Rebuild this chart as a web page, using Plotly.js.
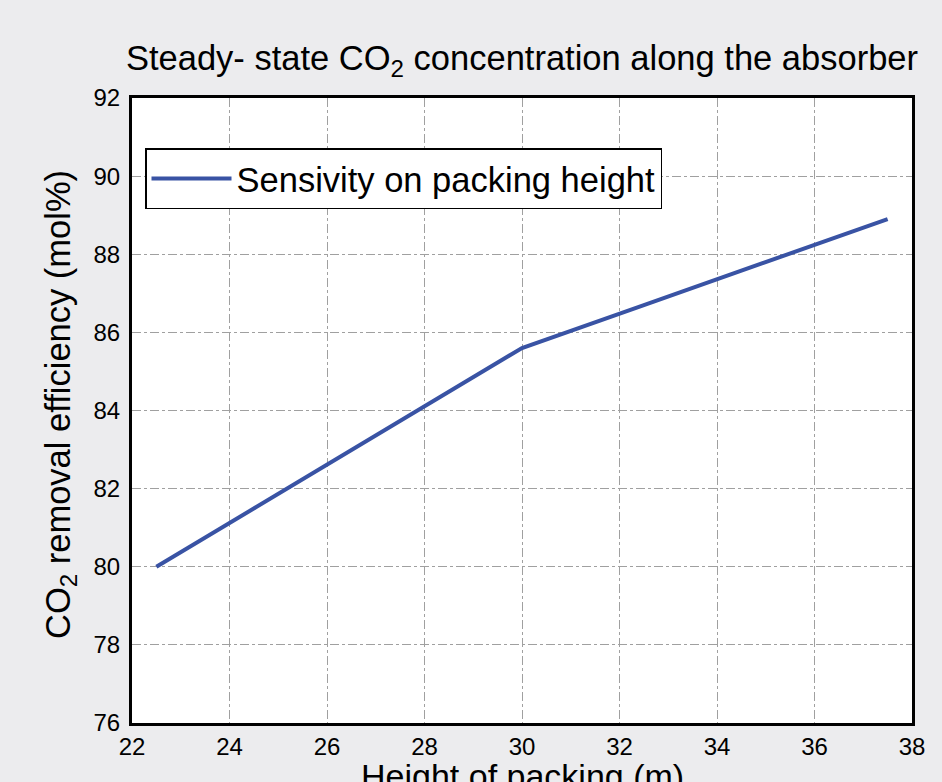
<!DOCTYPE html>
<html>
<head>
<meta charset="utf-8">
<script src="https://cdn.plot.ly/plotly-3.0.1.min.js"></script>
<style>html,body{margin:0;padding:0;background:#ececee;}#chart{width:942px;height:782px;}</style>
</head>
<body>
<div id="chart"></div>
<script>
const packingHeight = [22.5, 25, 27.5, 30, 32.5, 35, 37.5];
const removalEfficiency = [80.0, 81.87, 83.73, 85.6, 86.7, 87.8, 88.9];
const seriesName = "Sensivity on packing height";
const xTicks = [22, 24, 26, 28, 30, 32, 34, 36, 38];
const yTicks = [76, 78, 80, 82, 84, 86, 88, 90, 92];
const chartTitle = "Steady- state CO<sub>2</sub> concentration along the absorber";
const xTitle = "Height of packing (m)";
const yTitle = "CO<sub>2</sub> removal efficiency (mol%)";

const font = "Liberation Sans, Arial, Helvetica, sans-serif";

const trace = {
  x: packingHeight,
  y: removalEfficiency,
  type: "scatter",
  mode: "lines",
  name: seriesName,
  line: {color: "#3953a4", width: 4}
};

const axisCommon = {
  showline: true,
  linecolor: "#000",
  linewidth: 3,
  mirror: true,
  ticks: "",
  showgrid: true,
  gridcolor: "#a0a0a0",
  gridwidth: 1,
  griddash: "dashdot",
  zeroline: false,
  tickfont: {family: font, size: 24, color: "#000"},
  automargin: false
};

const layout = {
  width: 942,
  height: 782,
  paper_bgcolor: "#ececee",
  plot_bgcolor: "#ffffff",
  margin: {l: 132, r: 30, t: 98, b: 59},
  title: {
    text: chartTitle,
    font: {family: font, size: 34.5, color: "#000"},
    x: 0.5, xref: "paper", xanchor: "center",
    y: 1 - 58 / 782, yref: "container", yanchor: "middle"
  },
  xaxis: Object.assign({}, axisCommon, {
    range: [22, 38],
    tickmode: "array",
    tickvals: xTicks,
    ticktext: xTicks.map(String)
  }),
  yaxis: Object.assign({}, axisCommon, {
    range: [76, 92],
    tickmode: "array",
    tickvals: yTicks,
    ticktext: yTicks.map(String),
    ticklabelstandoff: 4
  }),
  annotations: [
    {
      text: xTitle, xref: "paper", yref: "paper",
      x: 0.5, y: (723 - 776) / 625, xanchor: "center", yanchor: "middle",
      showarrow: false, font: {family: font, size: 34, color: "#000"}
    },
    {
      text: yTitle, xref: "paper", yref: "paper", textangle: -90,
      x: (60 - 132) / 780, y: (723 - 405) / 625, xanchor: "center", yanchor: "middle",
      showarrow: false, font: {family: font, size: 34.5, color: "#000"}
    }
  ],
  showlegend: true,
  legend: {
    x: (145 - 132) / 780, y: (723 - 148) / 625, xanchor: "left", yanchor: "top",
    bgcolor: "#ffffff",
    bordercolor: "#000",
    borderwidth: 1.5,
    font: {family: font, size: 34.5, color: "#000"},
    itemwidth: 80
  }
};

Plotly.newPlot("chart", [trace], layout, {displayModeBar: false, staticPlot: true});
</script>
</body>
</html>
